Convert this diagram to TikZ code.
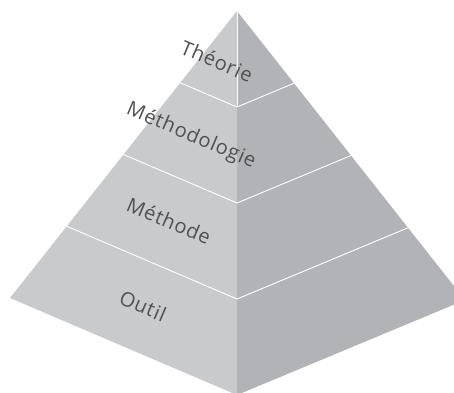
\documentclass[tikz,border=0pt]{standalone}
\usepackage{fontspec}
\setmainfont{Open Sans}
\newfontfamily\lvlfont[LetterSpace=4]{Open Sans}
\usetikzlibrary{calc}

\definecolor{faceL}{RGB}{201,202,204}
\definecolor{faceR}{RGB}{178,179,182}
\definecolor{labelgray}{RGB}{80,80,82}

\begin{document}
\begin{tikzpicture}[x=1pt, y=-1pt,
  face/.style={draw=none},
  layerline/.style={draw=white, line width=0.9pt},
  lvl/.style={font=\lvlfont\fontsize{20}{20}\selectfont, text=labelgray, rotate=-23, inner sep=0pt},
]
\useasboundingbox (0,0) rectangle (454,392);
\clip (0,0) rectangle (454,392);

% ======================= Pyramid corners =======================
\coordinate (apex)   at (237,11);
\coordinate (left)   at (10,298);
\coordinate (bottom) at (237,395);
\coordinate (right)  at (465,300);

% ======================= Faces =======================
\fill[face, faceL] (apex) -- (left) -- (bottom) -- cycle;
\fill[face, faceR] (apex) -- (bottom) -- (right) -- cycle;

% ======================= Layer separators =======================
\foreach \t in {0.25,0.5,0.75} {
  \draw[layerline] ($(apex)!\t!(left)$) -- ($(apex)!\t!(bottom)$) -- ($(apex)!\t!(right)$);
}
\draw[white, line width=0.7pt] (apex) -- ($(apex)!0.25!(bottom)$);

% ======================= Labels =======================
\node[lvl] (theorie) at (217,61)  {Théorie};
\node[lvl] (methodologie) at (191,136) {Méthodologie};
\node[lvl] (methode) at (169,221) {Méthode};
\node[lvl] (outil) at (143,306) {Outil};

\end{tikzpicture}
\end{document}
